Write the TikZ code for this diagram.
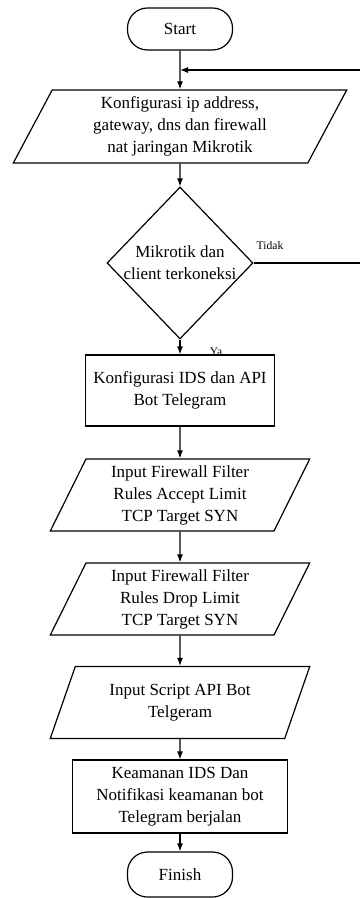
\documentclass[tikz,border=0pt]{standalone}
\usepackage{fontspec}
\setmainfont{Liberation Serif}
\usetikzlibrary{shapes.geometric,arrows.meta}

\tikzset{
  base/.style={draw, line width=0.6pt, align=center, inner sep=1pt,
    font=\fontsize{8.5}{11}\selectfont},
  terminal/.style={base, rounded corners=10pt, minimum width=52.5pt, minimum height=21pt},
  io/.style={base, trapezium, trapezium left angle=67, trapezium right angle=113,
    trapezium stretches=true, minimum width=130pt, minimum height=36pt},
  process/.style={base, rectangle, minimum height=36pt},
  decision/.style={base, diamond, minimum width=73pt, minimum height=76pt, inner sep=0pt},
  small/.style={font=\fontsize{5.8}{7}\selectfont, inner sep=0pt},
  arrow/.style={line width=0.6pt, -{Latex[length=4pt,width=3pt]}}
}

\begin{document}
\begin{tikzpicture}[x=0.5pt,y=-0.5pt]
    % Fix the canvas
    \useasboundingbox (0,0) rectangle (359,898);

    % Draw the flow nodes
    \node[terminal] (start) at (180,29) {Start};
    \node[io, minimum width=167pt, minimum height=36.5pt] (konf) at (180,126.5)
        {Konfigurasi ip address,\\gateway, dns dan firewall\\nat jaringan Mikrotik};
    \node[decision, label={[base, draw=none]center:{Mikrotik dan\\client terkoneksi}}] (cek) at (180,263) {};
    \node[process, minimum width=94.5pt, minimum height=35.5pt] (ids) at (180,390.5)
        {Konfigurasi IDS dan API\\Bot Telegram};
    \node[io] (accept) at (180,495) {Input Firewall Filter\\Rules Accept Limit\\TCP Target SYN};
    \node[io] (drop) at (180,599) {Input Firewall Filter\\Rules Drop Limit\\TCP Target SYN};
    \node[io] (script) at (180,702.5) {Input Script API Bot\\Telgeram};
    \node[process, minimum width=107.5pt, minimum height=36.5pt] (jalan) at (180,796.5)
        {Keamanan IDS Dan\\Notifikasi keamanan bot\\Telegram berjalan};
    \node[terminal, minimum height=22.5pt] (finish) at (180,874.5) {Finish};

    % Draw the arrows down the chart
    \foreach \a/\b in {start/konf, konf/cek, cek/ids, ids/accept, accept/drop,
                       drop/script, script/jalan, jalan/finish} {
        \draw[arrow] (\a) -- (\b);
    }

    % Tidak goes back above the first input
    \coordinate (back) at (180,70);
    \coordinate (turn) at (366,263);
    \draw[arrow] (cek.east) -- (turn) |- (back);

    % Branch labels
    \node[small] (tidak) at (270,246) {Tidak};
    \node[small] (ya) at (216,352) {Ya};

\end{tikzpicture}
\end{document}
